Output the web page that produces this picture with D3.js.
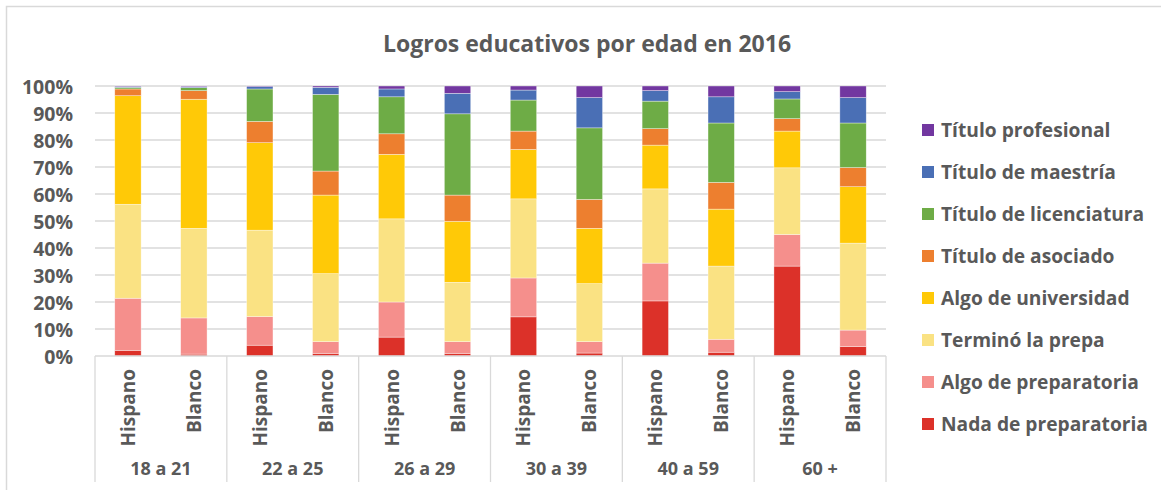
<!DOCTYPE html>
<html>
<head>
<meta charset="utf-8">
<script src="https://cdn.jsdelivr.net/npm/d3@7"></script>
<style>
  body { margin: 0; background: #fff; }
  svg text { font-family: "Open Sans", Lato, sans-serif; font-weight: bold; fill: #595959; }
</style>
</head>
<body>
<svg id="chart" width="1161" height="490"></svg>
<script>
// age groups and the two bars in each group
const ageGroups = ["18 a 21", "22 a 25", "26 a 29", "30 a 39", "40 a 59", "60 +"];
const races = ["Hispano", "Blanco"];
const yTicks = [0, 10, 20, 30, 40, 50, 60, 70, 80, 90, 100];

// series, bottom to top (percent of each bar)
const nada         = [2.1, 0.7, 4.0, 1.0, 7.0, 1.0, 14.5, 1.1, 20.4, 1.4, 33.3, 3.5];
const algoPrep     = [19.3, 13.4, 10.6, 4.3, 13.0, 4.3, 14.4, 4.2, 14.0, 4.8, 11.7, 6.1];
const termino      = [34.8, 33.2, 32.0, 25.2, 30.8, 22.0, 29.3, 21.5, 27.5, 27.1, 24.7, 32.2];
const algoUniv     = [40.2, 47.8, 32.4, 29.1, 23.9, 22.6, 18.3, 20.5, 16.2, 21.1, 13.6, 20.9];
const asociado     = [2.5, 3.2, 7.9, 8.9, 7.6, 9.7, 6.8, 10.7, 6.1, 9.9, 4.6, 7.1];
const licenciatura = [0.6, 1.1, 12.0, 28.4, 13.7, 30.1, 11.5, 26.5, 10.2, 22.0, 7.3, 16.5];
const maestria     = [0.3, 0.3, 0.9, 2.6, 2.9, 7.6, 3.7, 11.2, 3.9, 9.7, 2.7, 9.4];
const profesional  = [0.2, 0.3, 0.2, 0.5, 1.1, 2.7, 1.5, 4.3, 1.7, 4.0, 2.1, 4.3];

const seriesNames = ["Nada de preparatoria", "Algo de preparatoria", "Terminó la prepa",
  "Algo de universidad", "Título de asociado", "Título de licenciatura",
  "Título de maestría", "Título profesional"];
const seriesValues = [nada, algoPrep, termino, algoUniv, asociado, licenciatura, maestria, profesional];
const colors = ["#DC3129", "#F58F8C", "#FAE283", "#FFC907", "#ED7F2F", "#6EAC46", "#4A6FB5", "#7237A0"];

const svg = d3.select("#chart");

// chart frame
svg.append("rect")
  .attr("x", 6.5).attr("y", 6.5)
  .attr("width", 1170).attr("height", 500)
  .attr("fill", "none").attr("stroke", "#D9D9D9").attr("stroke-width", 1.5);

// title
svg.append("text")
  .attr("x", 587).attr("y", 52)
  .attr("text-anchor", "middle")
  .style("font-size", "23px")
  .text("Logros educativos por edad en 2016");

const plotLeft = 95, plotRight = 886, plotTop = 86, plotBottom = 356;

// one row per bar
const rows = [];
ageGroups.forEach((g, gi) => races.forEach((r, ri) => {
  const i = gi * races.length + ri;
  const row = { id: i, group: g, race: r };
  seriesNames.forEach((s, si) => row[s] = seriesValues[si][i]);
  rows.push(row);
}));

const x = d3.scaleBand()
  .domain(rows.map(d => d.id))
  .range([plotLeft, plotRight])
  .paddingInner(0.6)
  .paddingOuter(0.3);

const xGroup = d3.scaleBand()
  .domain(ageGroups)
  .range([plotLeft, plotRight]);

const y = d3.scaleLinear().domain([0, 100]).range([plotBottom, plotTop]);

// gridlines
svg.append("g")
  .selectAll("line")
  .data(yTicks.filter(d => d > 0))
  .join("line")
  .attr("x1", plotLeft).attr("x2", plotRight)
  .attr("y1", d => y(d)).attr("y2", d => y(d))
  .attr("stroke", "#D9D9D9").attr("stroke-width", 1.3);

// y axis labels
const yAxis = svg.append("g")
  .attr("transform", `translate(${plotLeft - 22},0)`)
  .call(d3.axisLeft(y).tickValues(yTicks).tickSize(0).tickPadding(0).tickFormat(d => d + "%"));
yAxis.select(".domain").remove();
yAxis.selectAll("text").style("font-size", "19.5px").attr("dy", "0.36em");

// stacked bars
const stack = d3.stack().keys(seriesNames)(rows);
svg.append("g")
  .selectAll("g")
  .data(stack)
  .join("g")
  .attr("fill", (d, i) => colors[i])
  .selectAll("rect")
  .data(d => d)
  .join("rect")
  .attr("x", d => x(d.data.id))
  .attr("width", x.bandwidth())
  .attr("y", d => y(d[1]))
  .attr("height", d => y(d[0]) - y(d[1]))
  .attr("stroke", "#fff").attr("stroke-width", 0.6).attr("stroke-opacity", 0.6);

// category axis line and group separators
svg.append("line")
  .attr("x1", plotLeft).attr("x2", plotRight)
  .attr("y1", plotBottom).attr("y2", plotBottom)
  .attr("stroke", "#D9D9D9").attr("stroke-width", 1.3);

svg.append("g")
  .selectAll("line")
  .data(ageGroups.map(g => xGroup(g)).concat([plotRight]))
  .join("line")
  .attr("x1", d => d).attr("x2", d => d)
  .attr("y1", plotBottom).attr("y2", 482)
  .attr("stroke", "#D9D9D9").attr("stroke-width", 1.3);

// inner labels (rotated)
svg.append("g")
  .selectAll("text")
  .data(rows)
  .join("text")
  .attr("transform", d => `translate(${x(d.id) + x.bandwidth() / 2 + 7},369) rotate(-90)`)
  .attr("text-anchor", "end")
  .style("font-size", "19px")
  .text(d => d.race);

// outer labels
svg.append("g")
  .selectAll("text")
  .data(ageGroups)
  .join("text")
  .attr("x", d => xGroup(d) + xGroup.bandwidth() / 2)
  .attr("y", 475)
  .attr("text-anchor", "middle")
  .style("font-size", "18px")
  .text(d => d);

// legend, top item = last series
const legend = svg.append("g")
  .selectAll("g")
  .data(seriesNames.map((s, i) => ({ name: s, color: colors[i] })).reverse())
  .join("g")
  .attr("transform", (d, i) => `translate(922,${130 + i * 42})`);

legend.append("rect")
  .attr("x", 0).attr("y", -6)
  .attr("width", 12).attr("height", 12)
  .attr("fill", d => d.color);

legend.append("text")
  .attr("x", 19).attr("y", 0)
  .attr("dy", "0.36em")
  .style("font-size", "19.2px")
  .text(d => d.name);
</script>
</body>
</html>
